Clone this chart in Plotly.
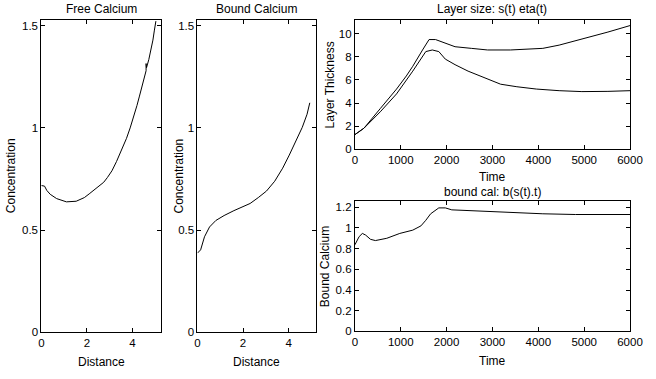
import plotly.graph_objects as go

# ---- data ----
free_x = [0.0, 0.14, 0.24, 0.39, 0.67, 1.1, 1.53, 1.89, 2.1, 2.39, 2.6, 2.74, 2.9, 3.1, 3.3, 3.46, 3.6, 3.74, 3.9, 4.03, 4.2, 4.31, 4.45, 4.58, 4.6, 4.6, 4.62, 4.72, 4.81, 4.9, 4.96, 5.03]
free_y = [0.718, 0.715, 0.694, 0.675, 0.654, 0.638, 0.641, 0.659, 0.677, 0.702, 0.72, 0.734, 0.757, 0.79, 0.835, 0.877, 0.91, 0.949, 1.0, 1.045, 1.11, 1.156, 1.215, 1.272, 1.28, 1.315, 1.295, 1.335, 1.38, 1.43, 1.475, 1.523]

bound_x = [0.0, 0.14, 0.31, 0.53, 0.81, 1.17, 1.6, 1.96, 2.31, 2.67, 3.03, 3.39, 3.74, 4.03, 4.31, 4.6, 4.81, 4.93]
bound_y = [0.387, 0.403, 0.467, 0.515, 0.547, 0.571, 0.595, 0.611, 0.630, 0.659, 0.691, 0.739, 0.803, 0.867, 0.931, 1.003, 1.067, 1.123]

s_t = [0, 199, 553, 908, 1121, 1262, 1475, 1617, 1759, 1972, 2184, 2539, 2894, 3390, 3745, 4099, 4454, 4808, 5163, 5518, 6000]
s_y = [1.27, 1.83, 3.52, 5.21, 6.34, 7.18, 8.59, 9.49, 9.49, 9.15, 8.87, 8.73, 8.59, 8.59, 8.65, 8.73, 9.01, 9.38, 9.72, 10.14, 10.7]

eta_t = [0, 199, 553, 908, 1262, 1404, 1546, 1688, 1830, 1972, 2184, 2468, 2823, 3177, 3532, 3957, 4454, 4950, 5518, 6000]
eta_y = [1.27, 1.83, 3.24, 4.79, 6.76, 7.6, 8.45, 8.59, 8.45, 7.8, 7.32, 6.76, 6.2, 5.63, 5.41, 5.21, 5.07, 4.99, 5.01, 5.07]

b_t = [0, 92, 163, 234, 340, 447, 695, 979, 1262, 1440, 1546, 1652, 1830, 1972, 2113, 2468, 3106, 3390, 4099, 4808, 6000]
b_y = [0.837, 0.916, 0.947, 0.931, 0.89, 0.878, 0.90, 0.947, 0.979, 1.02, 1.074, 1.137, 1.194, 1.194, 1.175, 1.168, 1.159, 1.153, 1.137, 1.13, 1.13]

W, H = 656, 379
FONT = "Liberation Sans, Arial, Helvetica, sans-serif"

fig = go.Figure()
line = dict(color="black", width=1)
fig.add_trace(go.Scatter(x=free_x, y=free_y, mode="lines", line=line, xaxis="x", yaxis="y"))
fig.add_trace(go.Scatter(x=bound_x, y=bound_y, mode="lines", line=line, xaxis="x2", yaxis="y2"))
fig.add_trace(go.Scatter(x=s_t, y=s_y, mode="lines", line=line, xaxis="x3", yaxis="y3"))
fig.add_trace(go.Scatter(x=eta_t, y=eta_y, mode="lines", line=line, xaxis="x3", yaxis="y3"))
fig.add_trace(go.Scatter(x=b_t, y=b_y, mode="lines", line=line, xaxis="x4", yaxis="y4"))

def px_x(p):
    return p / W

def px_y(p):
    return 1 - p / H

def ax(domain, rng, dtick, anchor):
    return dict(domain=domain, range=rng, dtick=dtick, tick0=0, anchor=anchor,
                showline=True, linecolor="black", linewidth=1, mirror="allticks",
                ticks="inside", ticklen=4, tickcolor="black", tickwidth=1,
                showgrid=False, zeroline=False,
                tickfont=dict(family=FONT, size=11.5, color="black"))

panels = [
    # (xdom px, ydom px, xrange, yrange, xdtick, ydtick)
    ((39.3, 162.3), (20, 337.5), [0, 5.27], [0, 1.53], 2, 0.5),
    ((199.3, 321), (20, 337.5), [0, 5.21], [0, 1.53], 2, 0.5),
    ((360.7, 642.7), (20.7, 151.7), [0, 6000], [0, 11.15], 1000, 2),
    ((360.7, 642.7), (204.3, 336.7), [0, 6000], [0, 1.26], 1000, 0.2),
]
layout = {}
for i, (xd, yd, xr, yr, xdt, ydt) in enumerate(panels):
    sfx = "" if i == 0 else str(i + 1)
    layout["xaxis" + sfx] = ax([px_x(xd[0]), px_x(xd[1])], xr, xdt, "y" + sfx)
    layout["yaxis" + sfx] = ax([px_y(yd[1]), px_y(yd[0])], yr, ydt, "x" + sfx)

annots = []
def text(s, x, y, angle=0):
    annots.append(dict(text=s, x=px_x(x), y=px_y(y), xref="paper", yref="paper",
                       showarrow=False, textangle=angle, xanchor="center", yanchor="middle",
                       font=dict(family=FONT, size=12, color="black")))

text("Free Calcium", 100.8, 9)
text("Bound Calcium", 260.2, 9)
text("Layer size: s(t) eta(t)", 501.7, 9)
text("bound cal: b(s(t).t)", 501.7, 195)
text("Distance", 100.8, 368)
text("Distance", 260.2, 368)
text("Time", 501.7, 180)
text("Time", 501.7, 367)
text("Concentration", 8.5, 178.7, -90)
text("Concentration", 180, 178.7, -90)
text("Layer Thickness", 335, 86, -90)
text("Bound Calcium", 330, 270.5, -90)

fig.update_layout(width=W, height=H, margin=dict(l=0, r=0, t=0, b=0),
                  paper_bgcolor="white", plot_bgcolor="white", showlegend=False,
                  annotations=annots, **layout)

fig.write_html("out.html")
